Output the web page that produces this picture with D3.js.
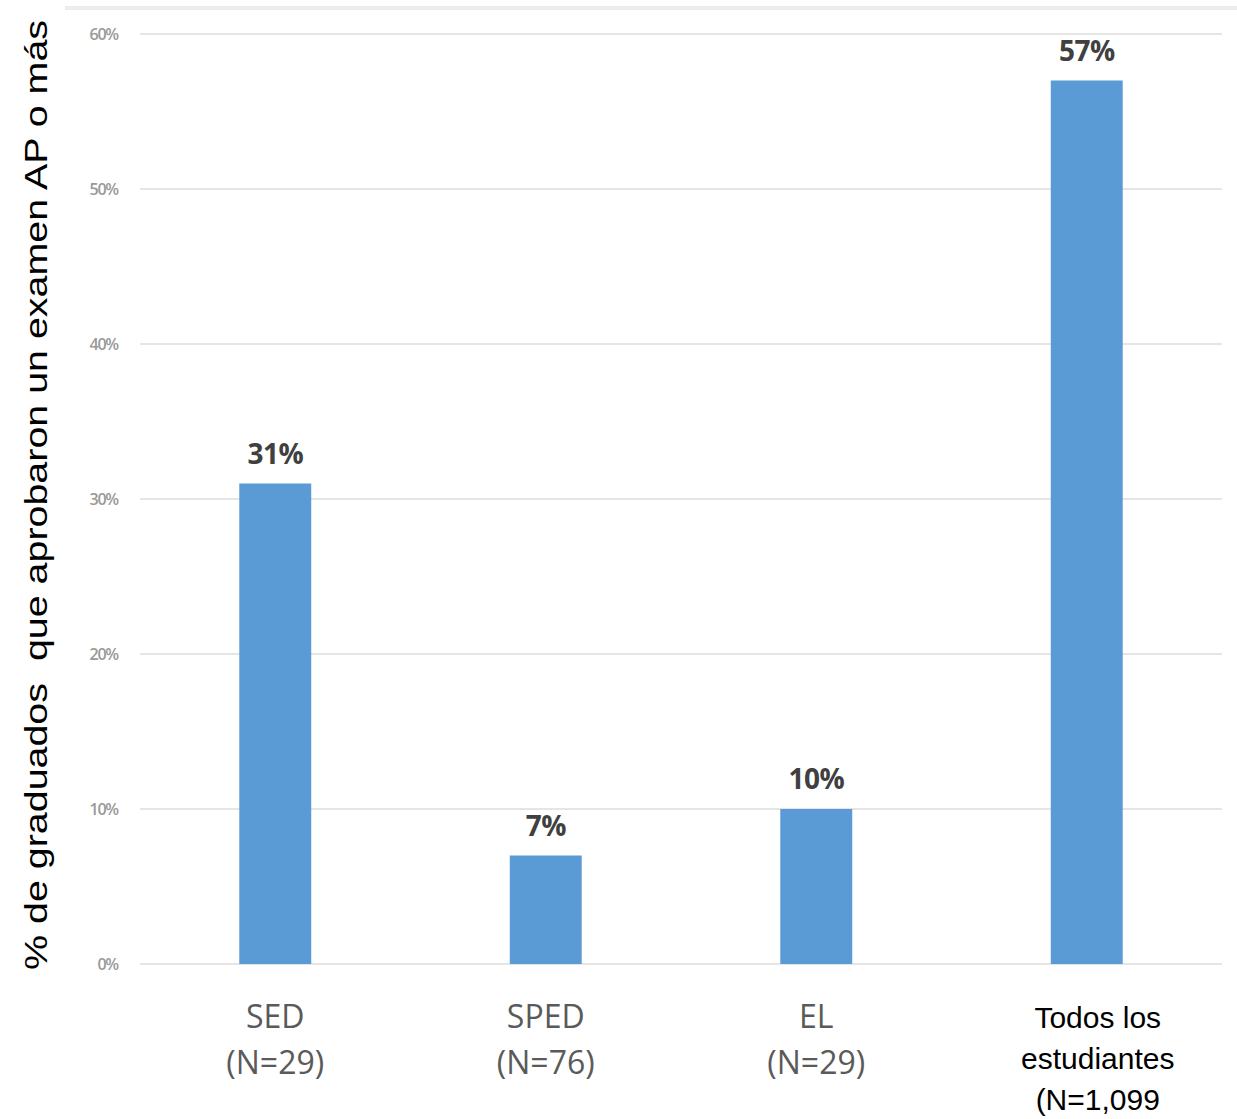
<!DOCTYPE html>
<html><head><meta charset="utf-8">
<script src="https://cdn.jsdelivr.net/npm/d3@7"></script>
<style>body{margin:0;background:#fff;} svg{display:block;}</style>
</head><body>
<svg id="c" width="1237" height="1119"></svg>
<script>
const categories = ["SED", "SPED", "EL", "Todos los estudiantes"];
const categoryLines = [["SED", "(N=29)"], ["SPED", "(N=76)"], ["EL", "(N=29)"], ["Todos los", "estudiantes", "(N=1,099"]];
const values = [31, 7, 10, 57];
const valueLabels = ["31%", "7%", "10%", "57%"];
const yTicks = [0, 10, 20, 30, 40, 50, 60];
const yTitle = "% de graduados  que aprobaron un examen AP o más";

const svg = d3.select("#c");
const x = d3.scaleBand().domain(categories).range([140, 1222]).paddingInner(0.734).paddingOuter(0.367);
const y = d3.scaleLinear().domain([0, 60]).range([964, 34]);

// top border
svg.append("line").attr("x1", 65).attr("x2", 1237).attr("y1", 8).attr("y2", 8)
  .attr("stroke", "#ececec").attr("stroke-width", 4);

// gridlines
svg.append("g").selectAll("line").data(yTicks).join("line")
  .attr("x1", 140).attr("x2", 1222)
  .attr("y1", d => y(d)).attr("y2", d => y(d))
  .attr("stroke", "#dcdcdc").attr("stroke-width", 1.5);

// y tick labels
const yAxis = d3.axisLeft(y).tickValues(yTicks).tickFormat(d => d + "%").tickSize(0).tickPadding(0);
const ga = svg.append("g").attr("transform", "translate(118,0)").call(yAxis);
ga.select(".domain").remove();
ga.selectAll("text").attr("font-family", "'Open Sans', sans-serif").attr("font-size", 16)
  .attr("font-weight", 600).attr("fill", "#999").attr("letter-spacing", -1.2);

// bars
svg.append("g").selectAll("rect").data(values).join("rect")
  .attr("x", (d, i) => x(categories[i])).attr("width", x.bandwidth())
  .attr("y", d => y(d)).attr("height", d => y(0) - y(d))
  .attr("fill", "#5b9bd5");

// value labels
svg.append("g").selectAll("text").data(values).join("text")
  .attr("x", (d, i) => x(categories[i]) + x.bandwidth() / 2)
  .attr("y", d => y(d) - 20)
  .attr("text-anchor", "middle")
  .attr("font-family", "'Open Sans', sans-serif").attr("font-weight", "bold")
  .attr("font-size", 28).attr("fill", "#404040").attr("letter-spacing", -0.5)
  .text((d, i) => valueLabels[i]);

// category labels
categoryLines.forEach((lines, i) => {
  const last = i === categories.length - 1;
  const cx = x(categories[i]) + x.bandwidth() / 2 + (last ? 11 : 0);
  const t = svg.append("text").attr("text-anchor", "middle")
    .attr("font-family", last ? "'Liberation Sans', Arial, sans-serif" : "'Open Sans', sans-serif")
    .attr("font-size", last ? 30 : 32)
    .attr("fill", last ? "#000" : "#5a5a5a");
  lines.forEach((l, j) => {
    t.append("tspan").attr("x", cx)
      .attr("y", last ? 1028 + j * 41 : 1028 + j * 46).text(l);
  });
});

// y title
svg.append("text").attr("transform", "translate(47,495) rotate(-90)")
  .attr("text-anchor", "middle").attr("xml:space", "preserve").style("white-space", "pre")
  .attr("font-family", "'Liberation Sans', Arial, sans-serif").attr("font-size", 32)
  .attr("textLength", 950).attr("lengthAdjust", "spacingAndGlyphs")
  .attr("fill", "#000").text(yTitle);
</script>
</body></html>
